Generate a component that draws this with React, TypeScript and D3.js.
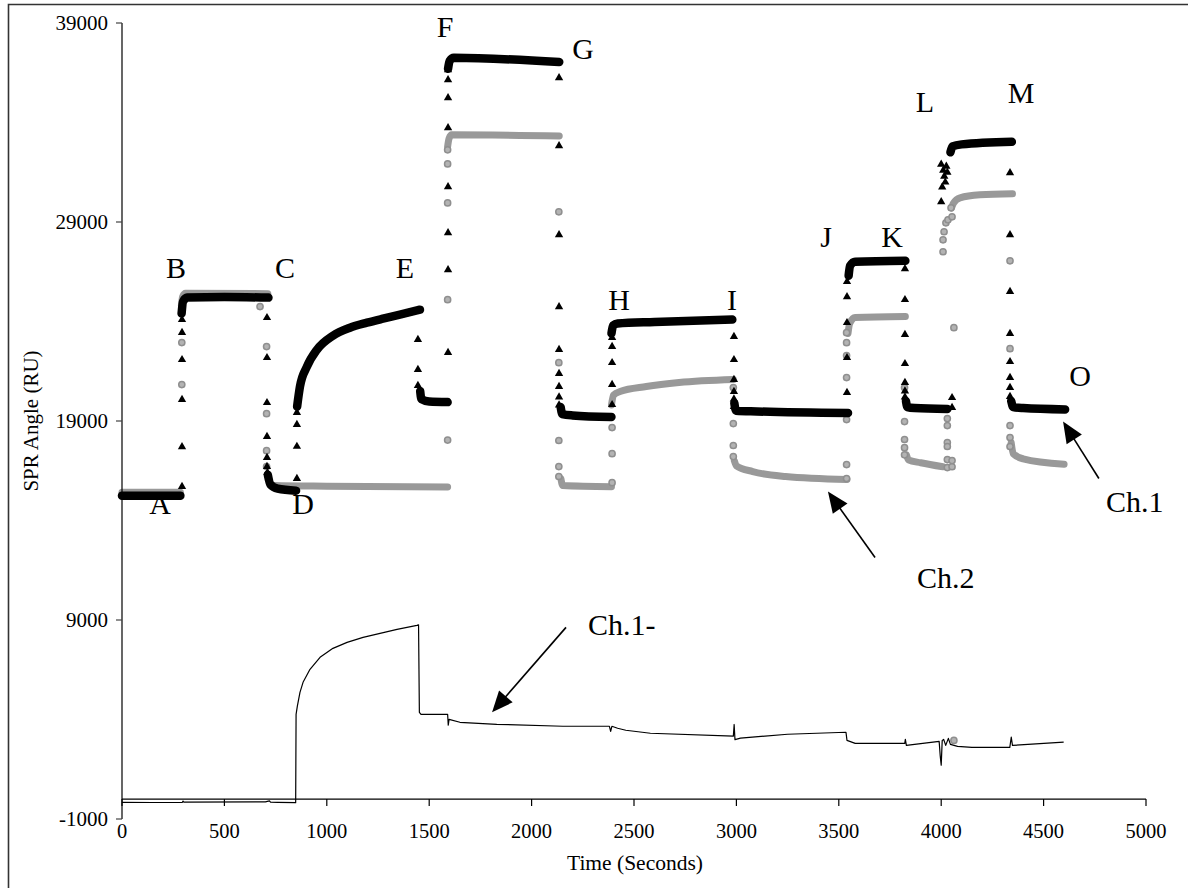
import React from "react";
import * as d3 from "d3";

type P = [number, number];

const X_TICKS = [0, 500, 1000, 1500, 2000, 2500, 3000, 3500, 4000, 4500, 5000];
const Y_TICKS = [-1000, 9000, 19000, 29000, 39000];

// Ch.1 (black triangles): dense stretches, read at key times (s, RU)
const ch1Segments: P[][] = [
  [[0, 15250], [285, 15250]],
  [[291, 24400], [298, 25000], [318, 25200], [500, 25230], [715, 25200]],
  [[712, 16300], [725, 15800], [760, 15600], [850, 15500]],
  [[855, 19720], [869, 20730], [903, 21730], [952, 22585], [1030, 23287], [1113, 23689], [1196, 23940], [1274, 24141], [1357, 24342], [1455, 24593]],
  [[1456, 20500], [1462, 20100], [1500, 19980], [1590, 19950]],
  [[1592, 36700], [1600, 37100], [1620, 37250], [2135, 37040]],
  [[2142, 19700], [2150, 19350], [2200, 19280], [2390, 19200]],
  [[2390, 23400], [2398, 23800], [2420, 23900], [2600, 23980], [2980, 24100]],
  [[2990, 19900], [2998, 19520], [3100, 19480], [3545, 19400]],
  [[3548, 26300], [3555, 26800], [3580, 27000], [3825, 27050]],
  [[3828, 20000], [3835, 19700], [3870, 19650], [4030, 19600]],
  [[4045, 32500], [4055, 32800], [4100, 32900], [4345, 33030]],
  [[4342, 20000], [4352, 19700], [4400, 19650], [4605, 19580]],
];

// Ch.1 single points in the steps
const ch1Points: P[] = [
  [293, 15700], [293, 17700], [293, 20075], [293, 22080], [293, 23440], [293, 24090],
  [708, 24190], [708, 22180], [708, 19920], [708, 18220], [708, 17160], [708, 16710], [710, 16410],
  [854, 16110], [854, 17720], [854, 18820], [854, 19420],
  [1445, 23090], [1445, 21580], [1445, 20780],
  [1592, 36640], [1592, 36140], [1592, 35240], [1592, 33730], [1592, 30770], [1592, 28460], [1592, 26600], [1592, 22435],
  [2134, 36240], [2134, 32825], [2134, 28360], [2134, 24740], [2134, 22585], [2134, 21380], [2134, 20730], [2134, 20200], [2134, 19800],
  [2393, 19820], [2393, 20830], [2393, 21930], [2393, 22735], [2393, 23190],
  [2988, 23240], [2988, 22080], [2988, 21080], [2988, 20480], [2988, 20100], [2988, 19720],
  [3540, 20430], [3540, 22180], [3540, 23940], [3540, 25245], [3540, 26000],
  [3823, 26650], [3823, 25095], [3823, 23340], [3823, 21880], [3823, 20930], [3823, 20500], [3823, 20200],
  [4053, 20170], [4053, 19670],
  [4000, 31900], [4010, 31600], [4015, 31300], [4020, 31000], [4005, 30750], [4025, 31800], [4030, 31500], [4000, 30015],
  [4336, 31470], [4336, 28360], [4336, 25500], [4336, 23390], [4336, 21980], [4336, 21180], [4336, 20680], [4336, 20230],
];

// Ch.2 (grey circles): dense stretches
const ch2Segments: P[][] = [
  [[0, 15420], [285, 15420]],
  [[290, 24800], [296, 25250], [310, 25420], [712, 25400]],
  [[714, 16200], [722, 15900], [745, 15760], [1000, 15720], [1590, 15680]],
  [[1590, 32800], [1597, 33200], [1610, 33380], [2135, 33320]],
  [[2143, 16100], [2152, 15760], [2390, 15700]],
  [[2390, 19800], [2400, 20300], [2432, 20480], [2560, 20730], [2720, 20930], [2985, 21080]],
  [[2990, 17000], [3000, 16750], [3080, 16460], [3240, 16210], [3540, 16060]],
  [[3545, 23400], [3553, 23900], [3580, 24200], [3825, 24250]],
  [[3830, 17300], [3840, 17050], [3900, 16900], [4009, 16700]],
  [[4050, 29700], [4060, 29950], [4092, 30215], [4189, 30365], [4348, 30420]],
  [[4342, 17900], [4352, 17350], [4400, 17100], [4600, 16830]],
];

// Ch.2 single points
const ch2Points: P[] = [
  [292, 20830], [292, 22940],
  [674, 24750],
  [706, 22740], [706, 19370], [706, 17510], [706, 16710],
  [1590, 32625], [1590, 31920], [1590, 29960], [1590, 25095], [1590, 18040],
  [2133, 29510], [2133, 21930], [2133, 18020], [2133, 16710], [2133, 16210],
  [2393, 18670], [2393, 17360], [2393, 15900],
  [2985, 20680], [2985, 18870], [2985, 17770], [2985, 17210],
  [3538, 19070], [3538, 16810], [3538, 16110], [3538, 21180], [3538, 22290], [3538, 22935], [3538, 23440],
  [3821, 20680], [3821, 18970], [3821, 18070], [3821, 17660], [3821, 17300],
  [4030, 19120], [4030, 18770], [4030, 17920], [4030, 17720], [4030, 17060], [4030, 16660], [4053, 17010], [4053, 16700],
  [4009, 27505], [4009, 28105], [4014, 28510], [4023, 28960], [4033, 29110], [4053, 29260], [4048, 29710],
  [4062, 23690],
  [4336, 27050], [4336, 22635], [4336, 18770], [4336, 18170], [4336, 17720],
  [4062, 2950],
];

// Ch.1- trace (thin line)
const ch1Minus: P[] = [
  [0, -160], [150, -170], [295, -160], [298, -100], [302, -150], [700, -140], [720, -90], [725, -150], [760, -160], [848, -180],
  [850, 4260], [856, 4660], [869, 5366], [884, 5868], [918, 6521], [967, 7124], [1030, 7575], [1099, 7876], [1177, 8127],
  [1260, 8328], [1343, 8529], [1440, 8730], [1448, 8760],
  [1452, 4360], [1460, 4260], [1590, 4260], [1593, 3710], [1597, 4010], [1650, 3860], [1830, 3760], [2153, 3660], [2380, 3660],
  [2386, 3400], [2392, 3660], [2420, 3560], [2460, 3460], [2580, 3310], [2985, 3160], [2989, 3750], [2993, 2990], [3020, 3060],
  [3250, 3260], [3535, 3360], [3540, 2950], [3580, 2800], [3822, 2800], [3825, 3000], [3830, 2700], [3990, 2900], [3995, 2200],
  [4000, 1700], [4005, 2950], [4012, 3000], [4022, 2700], [4035, 3050], [4045, 2750], [4080, 2650], [4150, 2600], [4335, 2600],
  [4342, 3110], [4348, 2700], [4598, 2860],
];

// Annotations (data coordinates)
const stepLabels: { text: string; t: number; v: number }[] = [
  { text: "A", t: 186, v: 14302 },
  { text: "B", t: 264, v: 26199 },
  { text: "C", t: 796, v: 26199 },
  { text: "D", t: 884, v: 14302 },
  { text: "E", t: 1382, v: 26199 },
  { text: "F", t: 1577, v: 38297 },
  { text: "G", t: 2251, v: 37193 },
  { text: "H", t: 2427, v: 24593 },
  { text: "I", t: 2979, v: 24593 },
  { text: "J", t: 3438, v: 27755 },
  { text: "K", t: 3760, v: 27755 },
  { text: "L", t: 3921, v: 34532 },
  { text: "M", t: 4390, v: 34984 },
  { text: "O", t: 4678, v: 20777 },
];

const channelLabels: { text: string; t: number; v: number }[] = [
  { text: "Ch.1", t: 4805, v: 14452 },
  { text: "Ch.2", t: 3882, v: 10587 },
  { text: "Ch.1-", t: 2275, v: 8227 },
];

const arrows: { from: P; to: P }[] = [
  { from: [4770, 16109], to: [4595, 18970] },
  { from: [3677, 12143], to: [3447, 15456] },
  { from: [2168, 8629], to: [1807, 4362] },
];

const FONT = "'Liberation Serif', 'Times New Roman', serif";

export default function App() {
  const x = d3.scaleLinear().domain([0, 5000]).range([122, 1146]);
  const y = d3.scaleLinear().domain([-1000, 39000]).range([819, 23]);
  const y0 = y(0);

  const band = d3
    .line<P>()
    .x((d) => x(d[0]))
    .y((d) => y(d[1]))
    .curve(d3.curveMonotoneX);
  const trace = d3
    .line<P>()
    .x((d) => x(d[0]))
    .y((d) => y(d[1]));
  const tri = d3.symbol().type(d3.symbolTriangle).size(30)()!;
  const circ = d3.symbol().type(d3.symbolCircle).size(30)()!;

  const arrowHead = (a: { from: P; to: P }) => {
    const fx = x(a.from[0]), fy = y(a.from[1]);
    const tx = x(a.to[0]), ty = y(a.to[1]);
    const ang = Math.atan2(ty - fy, tx - fx);
    const L = 21, W = 9;
    const bx = tx - L * Math.cos(ang), by = ty - L * Math.sin(ang);
    const px = -Math.sin(ang), py = Math.cos(ang);
    return {
      line: `M${fx},${fy}L${bx + 2 * Math.cos(ang)},${by + 2 * Math.sin(ang)}`,
      head: `M${tx},${ty}L${bx + W * px},${by + W * py}L${bx - W * px},${by - W * py}Z`,
    };
  };

  return (
    <div style={{ position: "absolute", left: 0, top: 0, background: "#fff" }}>
      <svg width={1188} height={888} style={{ display: "block", fontFamily: FONT }}>
        <rect x={0} y={0} width={1188} height={888} fill="#fff" />
        {/* frame (top and left edges) */}
        <path d="M8.5,888V4.5H1188" fill="none" stroke="#333" strokeWidth={1.6} />

        {/* Ch.1- trace */}
        <path d={trace(ch1Minus)!} fill="none" stroke="#000" strokeWidth={1.2} strokeLinejoin="round" />

        {/* Ch.2 grey */}
        {ch2Segments.map((s, i) => (
          <path key={"g" + i} d={band(s)!} fill="none" stroke="#999" strokeWidth={7} strokeLinecap="round" strokeLinejoin="round" />
        ))}
        {ch2Points.map((p, i) => (
          <path key={"gp" + i} d={circ} transform={`translate(${x(p[0])},${y(p[1])})`} fill="#b3b3b3" stroke="#8f8f8f" strokeWidth={1.5} />
        ))}

        {/* Ch.1 black */}
        {ch1Segments.map((s, i) => (
          <path key={"b" + i} d={band(s)!} fill="none" stroke="#000" strokeWidth={8.5} strokeLinecap="round" strokeLinejoin="round" />
        ))}
        {ch1Points.map((p, i) => (
          <path key={"bp" + i} d={tri} transform={`translate(${x(p[0])},${y(p[1])})`} fill="#000" />
        ))}

        {/* y axis */}
        <line x1={122} x2={122} y1={y(39000)} y2={y(-1000)} stroke="#000" strokeWidth={1.2} />
        {Y_TICKS.map((v) => (
          <g key={"yt" + v}>
            <line x1={116} x2={122} y1={y(v)} y2={y(v)} stroke="#444" strokeWidth={1.2} />
            <text x={108} y={y(v) + 7} textAnchor="end" fontSize={21} fill="#000">
              {v}
            </text>
          </g>
        ))}

        {/* x axis at 0 */}
        <line x1={x(0)} x2={x(5000)} y1={y0} y2={y0} stroke="#000" strokeWidth={1.2} />
        {X_TICKS.map((t) => (
          <g key={"xt" + t}>
            <line x1={x(t)} x2={x(t)} y1={y0} y2={y0 + 7} stroke="#000" strokeWidth={1.2} />
            <text x={x(t)} y={838} textAnchor="middle" fontSize={20.5} fill="#000">
              {t}
            </text>
          </g>
        ))}

        <text x={635} y={870} textAnchor="middle" fontSize={21.5}>
          Time (Seconds)
        </text>
        <text transform="translate(38,421) rotate(-90)" textAnchor="middle" fontSize={21}>
          SPR Angle (RU)
        </text>

        {/* step letters */}
        {stepLabels.map((l) => (
          <text key={l.text} x={x(l.t)} y={y(l.v)} textAnchor="middle" fontSize={30}>
            {l.text}
          </text>
        ))}
        {channelLabels.map((l) => (
          <text key={l.text} x={x(l.t)} y={y(l.v)} fontSize={30}>
            {l.text}
          </text>
        ))}
        {arrows.map((a, i) => {
          const h = arrowHead(a);
          return (
            <g key={"ar" + i}>
              <path d={h.line} stroke="#000" strokeWidth={1.6} fill="none" />
              <path d={h.head} fill="#000" />
            </g>
          );
        })}
      </svg>
    </div>
  );
}
